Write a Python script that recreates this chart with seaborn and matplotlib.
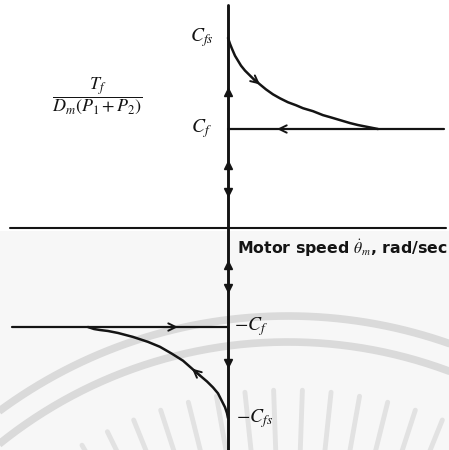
import numpy as np
import matplotlib
matplotlib.use("Agg")
import matplotlib.pyplot as plt
import seaborn as sns
import pandas as pd

# Friction levels (normalised torque units)
C_F = 1.0          # Coulomb (kinetic) friction level
C_FS = 1.92        # static (breakaway) friction level

# Friction torque curve for positive motor speed
speed_pos = [0.0, 0.02, 0.04, 0.07, 0.10, 0.13, 0.17, 0.21, 0.26, 0.32, 0.38, 0.45, 0.52,
             0.60, 0.68, 0.75, 0.85, 0.95, 1.02, 1.12, 1.22, 1.30, 1.35, 1.40, 1.45, 1.50]
torque_pos = [1.92, 1.86, 1.81, 1.74, 1.69, 1.64, 1.59, 1.55, 1.50, 1.45, 1.40, 1.35, 1.31,
              1.27, 1.24, 1.21, 1.18, 1.14, 1.12, 1.09, 1.06, 1.04, 1.03, 1.02, 1.01, 1.00]

# Friction torque curve for negative motor speed
speed_neg = [0.0, -0.01, -0.03, -0.06, -0.10, -0.15, -0.21, -0.28, -0.36, -0.45, -0.56,
             -0.68, -0.80, -0.95, -1.10, -1.20, -1.28, -1.34, -1.40]
torque_neg = [-1.92, -1.87, -1.81, -1.75, -1.67, -1.61, -1.55, -1.49, -1.42, -1.34, -1.27,
              -1.20, -1.15, -1.10, -1.06, -1.04, -1.03, -1.02, -1.00]

# Direction markers along the torque axis
axis_arrows_up = [1.37, 0.64, -0.37]
axis_arrows_down = [0.36, -0.61, -1.36]

# Horizontal extent of the drawing in speed units
speed_span = 2.18
level_span = 2.16

sns.set_theme(style="white")
plt.rcParams["mathtext.fontset"] = "stix"
plt.rcParams["font.family"] = ["DejaVu Sans"]

INK = "#141414"
XLIM = (-2.28, 2.21)
YLIM = (-2.242, 2.303)

fig = plt.figure(figsize=(4.49, 4.50), dpi=100)

# faint background watermark layer (pixel space)
bg = fig.add_axes([0, 0, 1, 1])
bg.set_xlim(0, 449)
bg.set_ylim(450, 0)
bg.axis("off")
bg.add_patch(plt.Rectangle((0, 231), 449, 219, color="#f7f7f7", lw=0, zorder=0))
cx, cy = 288, 802
phi = np.linspace(-0.8, 0.8, 400)
for r in (486, 460):
    bg.plot(cx + r * np.sin(phi), cy - r * np.cos(phi),
            color="#dadada", lw=5.5, solid_capstyle="butt", zorder=1)
for ang in np.deg2rad(np.arange(-30, 31, 4)):
    r0, r1 = 330, 412
    bg.plot([cx + r0 * np.sin(ang), cx + r1 * np.sin(ang)],
            [cy - r0 * np.cos(ang), cy - r1 * np.cos(ang)],
            color="#e2e2e2", lw=3.5, solid_capstyle="round", zorder=1)

ax = fig.add_axes([0, 0, 1, 1])
ax.patch.set_alpha(0)

# coordinate axes
ax.plot([-speed_span, speed_span], [0, 0], color=INK, lw=1.5, zorder=3)
ax.plot([0, 0], [-2.4, 2.25], color=INK, lw=2.1, zorder=3)

# friction characteristic
df_pos = pd.DataFrame({"speed": speed_pos, "torque": torque_pos})
df_neg = pd.DataFrame({"speed": speed_neg, "torque": torque_neg})
sns.lineplot(data=df_pos, x="speed", y="torque", sort=False, color=INK, lw=1.8, ax=ax, zorder=4)
sns.lineplot(data=df_neg, x="speed", y="torque", sort=False, color=INK, lw=1.8, ax=ax, zorder=4)
df_lvl_pos = pd.DataFrame({"speed": [0, level_span], "torque": [C_F, C_F]})
df_lvl_neg = pd.DataFrame({"speed": [-level_span, 0], "torque": [-C_F, -C_F]})
sns.lineplot(data=df_lvl_pos, x="speed", y="torque", color=INK, lw=1.6, ax=ax, zorder=4)
sns.lineplot(data=df_lvl_neg, x="speed", y="torque", color=INK, lw=1.6, ax=ax, zorder=4)
ax.set_xlim(*XLIM)
ax.set_ylim(*YLIM)
ax.axis("off")

# arrow heads on the torque axis
ax.plot([0] * len(axis_arrows_up), axis_arrows_up, ls="none", marker="^",
        ms=6, color=INK, zorder=5)
ax.plot([0] * len(axis_arrows_down), axis_arrows_down, ls="none", marker="v",
        ms=6, color=INK, zorder=5)

barb = dict(arrowstyle="->,head_length=0.45,head_width=0.22", color=INK, lw=1.4,
            shrinkA=0, shrinkB=0)
# along the friction levels
ax.annotate("", xy=(0.49, C_F), xytext=(0.60, C_F), arrowprops=barb, zorder=6)
ax.annotate("", xy=(-0.50, -C_F), xytext=(-0.61, -C_F), arrowprops=barb, zorder=6)
# along the curves
ax.annotate("", xy=(speed_pos[9], torque_pos[9]), xytext=(speed_pos[8], torque_pos[8]),
            arrowprops=barb, zorder=6)
ax.annotate("", xy=(speed_neg[8], torque_neg[8]), xytext=(speed_neg[7], torque_neg[7]),
            arrowprops=barb, zorder=6)

# level labels
ax.text(-0.14, C_FS, r"$C_{fs}$", ha="right", va="center", fontsize=14, color=INK)
ax.text(-0.16, C_F, r"$C_f$", ha="right", va="center", fontsize=14, color=INK)
ax.text(0.06, -C_F, r"$-C_f$", ha="left", va="center", fontsize=14, color=INK)
ax.text(0.08, -C_FS, r"$-C_{fs}$", ha="left", va="center", fontsize=14, color=INK)

# axis titles
ax.text(0.09, -0.20, r"Motor speed $\dot{\theta}_m$, rad/sec", ha="left", va="center",
        fontsize=11.3, color=INK, fontweight="semibold")
ax.text(-1.31, 1.34, r"$\dfrac{T_f}{D_m(P_1+P_2)}$", ha="center", va="center",
        fontsize=13, color=INK)

fig.savefig("out.png", dpi=100)
